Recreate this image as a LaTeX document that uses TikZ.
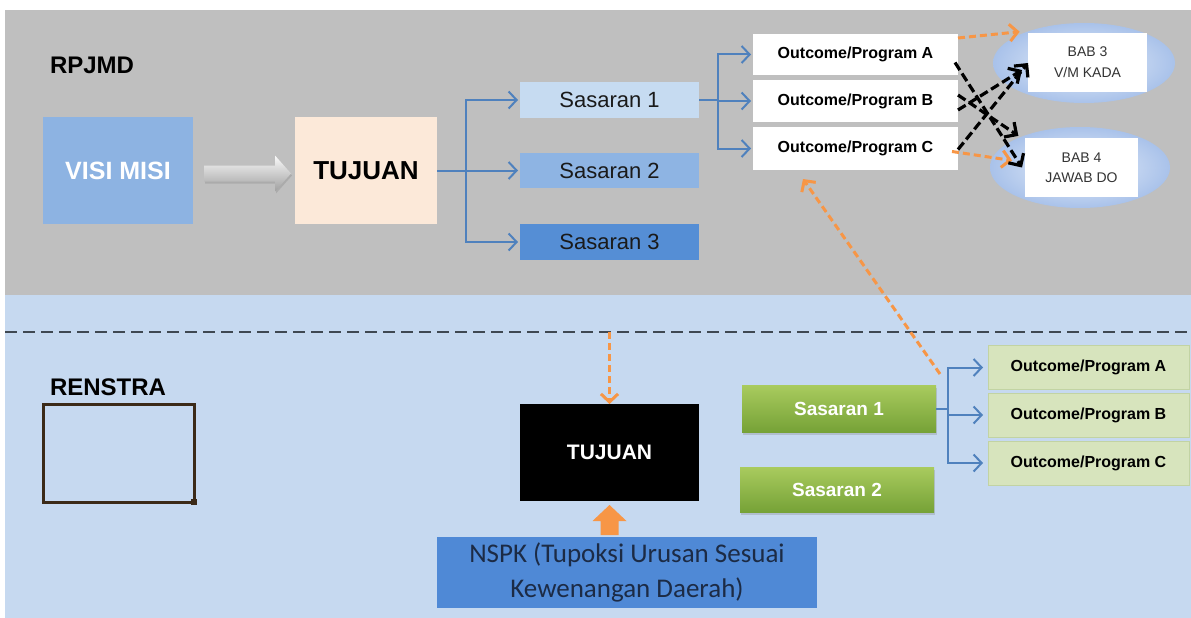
\documentclass[tikz,border=0pt]{standalone}
\usepackage{fontspec}
\setmainfont{Liberation Sans}
\newfontfamily\calibfont{Carlito}
\usetikzlibrary{arrows.meta,shapes.geometric,calc,shadows}
\newcommand{\myfs}[1]{\fontsize{#1}{#1}\selectfont}
\definecolor{graybg}{HTML}{BFBFBF}
\definecolor{bluebg}{HTML}{C6D9F0}
\definecolor{visic}{HTML}{8DB3E2}
\definecolor{tujc}{HTML}{FCE9D9}
\definecolor{sa}{HTML}{C6DBF1}
\definecolor{sb}{HTML}{8EB4E3}
\definecolor{sc}{HTML}{558ED5}
\definecolor{blueln}{HTML}{4F81BD}
\definecolor{orangeln}{HTML}{F79646}
\definecolor{sepc}{HTML}{3F4852}
\definecolor{ellin}{HTML}{E8EFF9}
\definecolor{ellout}{HTML}{A9C2EA}
\definecolor{lgreen}{HTML}{D7E4BD}
\definecolor{lgreend}{HTML}{C2D3A3}
\definecolor{gtop}{HTML}{A9CB5E}
\definecolor{gbot}{HTML}{76A237}
\definecolor{nspkc}{HTML}{4F89D6}
\definecolor{nspkt}{HTML}{1C2B45}
\definecolor{brownc}{HTML}{3B2A18}
\definecolor{txtc}{HTML}{1A1A1A}
\begin{document}
\begin{tikzpicture}[x=1pt,y=-1pt,
  every node/.style={inner sep=0pt, outer sep=0pt},
  box/.style={rectangle, align=center},
  sasbox/.style={box, minimum width=179pt, text=txtc, font=\myfs{22}},
  outbox/.style={box, fill=white, minimum width=205pt, font=\bfseries\myfs{16}},
  loutbox/.style={box, fill=lgreen, draw=lgreend, line width=0.8pt, minimum width=201pt, minimum height=44pt, font=\bfseries\myfs{16}},
  greenbox/.style={box, top color=gtop, bottom color=gbot, minimum width=194pt, text=white, font=\bfseries\myfs{19},
     drop shadow={opacity=0.3, shadow xshift=1pt, shadow yshift=-2.5pt}},
  ell/.style={ellipse, inner color=ellin, outer color=ellout},
  babtxt/.style={box, fill=white, text=black!80, font=\myfs{14}, align=center},
  blconn/.style={draw=blueln, line width=2pt, -{Straight Barb[length=8pt,width=17pt,line width=2pt]}},
  blline/.style={draw=blueln, line width=2pt},
  orconn/.style={draw=orangeln, line width=3pt, dash pattern=on 7pt off 4pt, -{Straight Barb[length=8pt,width=17pt,line width=3pt]}},
  bkconn/.style={draw=black, line width=3.2pt, dash pattern=on 9pt off 4pt, -{Straight Barb[length=9pt,width=18pt,line width=3.2pt]}},
  sepline/.style={draw=sepc, line width=2.2pt, dash pattern=on 12pt off 6pt}
]
\useasboundingbox (0,0) rectangle (1191,618);
\fill[white] (0,0) rectangle (1191,618);
\fill[graybg] (5,10) rectangle (1191,295);
\fill[bluebg] (5,295) rectangle (1191,618);
\coordinate (dl) at (5,332);
\coordinate (dr) at (1191,332);
\draw[sepline] (dl) -- (dr);

% ---------- RPJMD ----------
\node[font=\bfseries\myfs{24}, anchor=base west] (rpjmd) at (50,74) {RPJMD};
\node[box, fill=visic, minimum width=150pt, minimum height=107pt, text=white, font=\bfseries\myfs{25}] (visi) at (118,170.5) {VISI MISI};
\node[box, fill=tujc, minimum width=142pt, minimum height=107pt, text=black, font=\bfseries\myfs{26}] (tuj) at (366,170.5) {TUJUAN};

% gray block arrow
\coordinate (ga1) at ($(visi.east)+(11,3)$);
\coordinate (ga2) at ($(tuj.west)+(-4,3)$);
\shade[top color=white!96!gray, bottom color=gray!75, drop shadow={opacity=0.3, shadow xshift=1pt, shadow yshift=-2pt}]
  ($(ga1)+(0,-8)$) -- ($(ga2)+(-16,-8)$) -- ($(ga2)+(-16,-18)$) -- (ga2) -- ($(ga2)+(-16,18)$) -- ($(ga2)+(-16,8)$) -- ($(ga1)+(0,8)$) -- cycle;

\node[sasbox, fill=sa, minimum height=36pt] (s1) at (609.5,100) {Sasaran 1};
\node[sasbox, fill=sb, minimum height=35pt] (s2) at (609.5,170.5) {Sasaran 2};
\node[sasbox, fill=sc, minimum height=36pt] (s3) at (609.5,242) {Sasaran 3};

\coordinate (b1) at (466,170.5);
\draw[blline] (tuj.east) -- (b1);
\draw[blconn, shorten >=2pt] (b1) |- (s1.west);
\draw[blconn, shorten >=2pt] (b1) -- (s2.west);
\draw[blconn, shorten >=2pt] (b1) |- (s3.west);

\node[outbox, minimum height=41pt] (oa) at (855.5,54.5) {Outcome/Program A};
\node[outbox, minimum height=42pt] (ob) at (855.5,101) {Outcome/Program B};
\node[outbox, minimum height=43pt] (oc) at (855.5,148.5) {Outcome/Program C};

\coordinate (b2) at (718,100);
\draw[blline] (s1.east) -- (b2);
\draw[blconn, shorten >=2pt] (b2) |- (oa.west);
\draw[blconn, shorten >=2pt] (b2) |- (ob.west);
\draw[blconn, shorten >=2pt] (b2) |- (oc.west);

\node[ell, minimum width=182pt, minimum height=80pt] (bab3) at (1084,63) {};
\node[babtxt, minimum width=119pt, minimum height=59pt] (bab3t) at (1087.5,62.5) {BAB 3\\[7pt]V/M KADA};
\node[ell, minimum width=180pt, minimum height=81pt] (bab4) at (1080,167.5) {};
\node[babtxt, minimum width=113pt, minimum height=59pt] (bab4t) at (1081.5,167.5) {BAB 4\\[6pt]JAWAB DO};

\draw[orconn] ($(oa.north east)+(0,4)$) -- ($(bab3.north west)+(0,-3)$);
\draw[orconn] ($(oc.east)+(-6,3)$) -- ($(bab4.west)+(22,-7)$);

\draw[bkconn] ($(oa.east)+(-3,8)$) -- ($(bab4.west)+(32,0)$);
\draw[bkconn] ($(ob.east)+(0,-6)$) -- ($(bab4.north west)+(2,-3)$);
\draw[bkconn] ($(ob.east)+(0,9)$) -- ($(bab3.west)+(29,7)$);
\draw[bkconn] ($(oc.east)+(0,1)$) -- ($(bab3.west)+(35,0)$);

% ---------- RENSTRA ----------
\node[font=\bfseries\myfs{24}, anchor=base west] (renstra) at (50,395) {RENSTRA};
\node[box, draw=brownc, line width=3pt, minimum width=151pt, minimum height=98pt] (rbox) at (118.5,453) {};
\fill[brownc] ($(rbox.south east)+(-3,-3)$) rectangle ($(rbox.south east)+(3,3)$);

\node[box, fill=black, minimum width=179pt, minimum height=97pt, text=white, font=\bfseries\myfs{21}] (tuj2) at (609.5,452.5) {TUJUAN};
\coordinate (dsh) at (tuj2.north |- dl);
\draw[orconn] (dsh) -- (tuj2.north);

\node[box, fill=nspkc, minimum width=380pt, minimum height=71pt, text=nspkt, font=\calibfont\myfs{27}, align=center] (nspk) at (627,572.5)
  {NSPK (Tupoksi Urusan Sesuai\\[8pt]Kewenangan Daerah)};

% orange block arrow up
\coordinate (ua) at (tuj2.south |- nspk.north);
\fill[orangeln] ($(ua)+(-9,-2)$) -- ($(ua)+(-9,-16)$) -- ($(ua)+(-17,-16)$) -- ($(tuj2.south)+(0,4)$) -- ($(ua)+(17,-16)$) -- ($(ua)+(9,-16)$) -- ($(ua)+(9,-2)$) -- cycle;

\node[greenbox, minimum height=47pt] (g1) at (839,408.5) {Sasaran 1};
\node[greenbox, minimum height=45pt] (g2) at (837,489.5) {Sasaran 2};

\node[loutbox] (la) at (1088.5,367.5) {Outcome/Program A};
\node[loutbox] (lb) at (1088.5,415) {Outcome/Program B};
\node[loutbox] (lc) at (1088.5,463) {Outcome/Program C};

\coordinate (b3) at (948,408.5);
\draw[blline] (g1.east) -- (b3);
\draw[blconn, shorten >=5pt] (b3) |- (la.west);
\draw[blconn, shorten >=5pt] (b3) |- (lb.west);
\draw[blconn, shorten >=5pt] (b3) |- (lc.west);

\draw[orconn] ($(g1.north east)+(4,-11)$) -- ($(oc.south west)+(50,9)$);
\end{tikzpicture}
\end{document}
